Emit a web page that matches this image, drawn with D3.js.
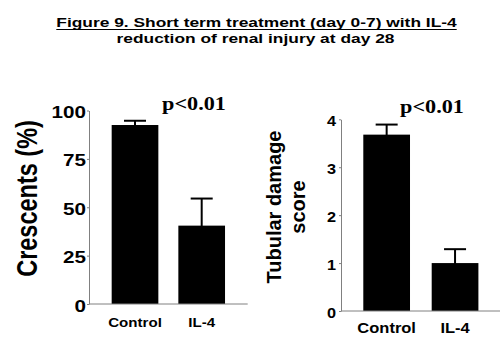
<!DOCTYPE html>
<html><head><meta charset="utf-8">
<script src="https://cdn.jsdelivr.net/npm/d3@7"></script>
<style>body{margin:0;background:#fff} svg{display:block}</style>
</head><body>
<svg id="c" width="500" height="343"></svg>
<script>
const titleLines = ["Figure 9. Short term treatment (day 0-7) with IL-4", "reduction of renal injury at day 28"];
const categories = ["Control", "IL-4"];
const crescentsMean = [92.5, 40.5];
const crescentsErr = [2.2, 14];
const crescentsTicks = [0, 25, 50, 75, 100];
const tubularMean = [3.68, 1.0];
const tubularErr = [0.21, 0.29];
const tubularTicks = [0, 1, 2, 3, 4];
const pLabels = ["p<0.01", "p<0.01"];
const crescentsTitle = ["Crescents (%)"];
const tubularTitle = ["Tubular damage", "score"];

const svg = d3.select("#c");
const SANS = "'Liberation Sans', Arial, sans-serif";
const SERIF = "'Liberation Serif', 'Times New Roman', serif";

// Title
const tsx = 1.39, tfs = 12.5;
const tg = svg.append("g");
const t1 = tg.append("text").attr("transform", `translate(256.5,27) scale(${tsx},1)`)
  .attr("text-anchor", "middle").attr("font-family", SANS).attr("font-weight", "bold")
  .attr("font-size", tfs).attr("fill", "#000").text(titleLines[0]);
tg.append("text").attr("transform", `translate(255.5,43) scale(${tsx},1)`)
  .attr("text-anchor", "middle").attr("font-family", SANS).attr("font-weight", "bold")
  .attr("font-size", tfs).attr("fill", "#000").text(titleLines[1]);
const w1 = t1.node().getComputedTextLength() * tsx;
tg.append("line").attr("x1", 256.5 - w1 / 2).attr("x2", 256.5 + w1 / 2)
  .attr("y1", 29.5).attr("y2", 29.5).attr("stroke", "#000").attr("stroke-width", 1.1);

function panel(o) {
  const g = svg.append("g");
  const x = d3.scaleBand().domain(categories).range(o.xRange)
    .paddingInner(o.padIn).paddingOuter(o.padOut);
  const y = d3.scaleLinear().domain(o.yDomain).range(o.yRange);
  const x0 = o.xRange[0], y0 = o.yRange[0];

  // bars
  g.selectAll("rect.bar").data(categories).join("rect")
    .attr("x", d => x(d)).attr("width", x.bandwidth())
    .attr("y", (d, i) => y(o.means[i]))
    .attr("height", (d, i) => y0 - y(o.means[i]))
    .attr("fill", "#000");
  // error bars
  g.selectAll("line.stem").data(categories).join("line")
    .attr("x1", d => x(d) + x.bandwidth() / 2).attr("x2", d => x(d) + x.bandwidth() / 2)
    .attr("y1", (d, i) => y(o.means[i]) + 1).attr("y2", (d, i) => y(o.means[i] + o.errs[i]))
    .attr("stroke", "#000").attr("stroke-width", 2);
  g.selectAll("line.cap").data(categories).join("line")
    .attr("x1", d => x(d) + x.bandwidth() / 2 - o.capW / 2)
    .attr("x2", d => x(d) + x.bandwidth() / 2 + o.capW / 2)
    .attr("y1", (d, i) => y(o.means[i] + o.errs[i])).attr("y2", (d, i) => y(o.means[i] + o.errs[i]))
    .attr("stroke", "#000").attr("stroke-width", 2);

  // y axis
  const ya = g.append("g").attr("transform", `translate(${x0},0)`)
    .call(d3.axisLeft(y).tickValues(o.ticks).tickFormat(d3.format("d")).tickSize(2).tickSizeOuter(0));
  ya.select(".domain").attr("stroke", "#808080");
  ya.selectAll(".tick line").attr("stroke", "#808080");
  ya.selectAll(".tick text")
    .attr("x", null).attr("dy", null)
    .attr("transform", `translate(${-o.tickGap},${o.tickDy}) scale(${o.tickSx},1)`)
    .attr("font-family", SANS).attr("font-weight", "bold").attr("font-size", o.tickFs)
    .attr("fill", "#000");

  // x axis
  const xa = g.append("g").attr("transform", `translate(0,${y0})`)
    .call(d3.axisBottom(x).tickSize(0).tickSizeOuter(0));
  xa.select(".domain").attr("stroke", "#808080").attr("d", `M${x0},0H${o.xRange[1]}`);
  xa.selectAll(".tick text")
    .attr("y", null).attr("dy", null)
    .attr("transform", `translate(0,${o.xLabelBase}) scale(${o.xSx},1)`)
    .attr("font-family", SANS).attr("font-weight", "bold").attr("font-size", o.xFs)
    .attr("fill", "#000");

  // p label
  g.append("text").attr("transform", `translate(${o.pX},${o.pY}) scale(${o.pSx},1)`)
    .attr("text-anchor", "middle").attr("font-family", SERIF).attr("font-weight", "bold")
    .attr("font-size", o.pFs).attr("fill", "#000").text(o.pText);

  // y title
  const yt = g.append("text")
    .attr("transform", `translate(${o.ytX},${o.ytY}) rotate(-90) scale(1,${o.ytSy})`)
    .attr("text-anchor", "middle").attr("font-family", SANS).attr("font-weight", "bold")
    .attr("font-size", o.ytFs).attr("fill", "#000");
  o.ytLines.forEach((l, i) => {
    yt.append("tspan").attr("x", 0).attr("y", i * o.ytGap).text(l);
  });
}

panel({
  xRange: [89, 247.7], padIn: 0.3, padOut: 0.34,
  yDomain: [0, 100], yRange: [304, 110.5], ticks: crescentsTicks,
  means: crescentsMean, errs: crescentsErr, capW: 22,
  tickFs: 16.5, tickSx: 1.25, tickGap: 3, tickDy: 7,
  xFs: 13.5, xSx: 1.12, xLabelBase: 23,
  pText: pLabels[0], pX: 194, pY: 110, pFs: 18.5, pSx: 1.2,
  ytLines: crescentsTitle, ytX: 36.5, ytY: 198.5, ytFs: 23.5, ytSy: 1.25, ytGap: 0
});

panel({
  xRange: [341, 500.7], padIn: 0.317, padOut: 0.326,
  yDomain: [0, 4], yRange: [311, 119.3], ticks: tubularTicks,
  means: tubularMean, errs: tubularErr, capW: 22,
  tickFs: 15.5, tickSx: 1.05, tickGap: 5, tickDy: 6,
  xFs: 15, xSx: 1.1, xLabelBase: 22,
  pText: pLabels[1], pX: 432, pY: 112.5, pFs: 18.5, pSx: 1.2,
  ytLines: tubularTitle, ytX: 281, ytY: 207, ytFs: 20, ytSy: 1.05, ytGap: 23
});
</script>
</body></html>
